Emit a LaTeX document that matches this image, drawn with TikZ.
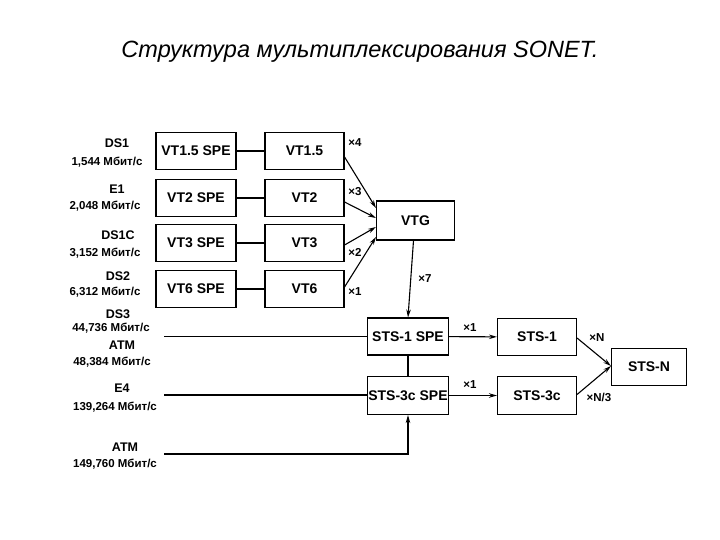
\documentclass[tikz,border=0pt]{standalone}
\usepackage{fontspec}
\setmainfont{Liberation Sans}
\usetikzlibrary{arrows.meta,calc}
\tikzset{
  box/.style={draw=black,line width=1.1pt,minimum width=80pt,minimum height=37pt,inner sep=0pt,font=\fontsize{14}{16}\selectfont\bfseries},
  lbl/.style={inner sep=0pt,font=\fontsize{12.5}{14}\selectfont\bfseries},
  rate/.style={inner sep=0pt,font=\fontsize{11.5}{13}\selectfont\bfseries},
  mul/.style={inner sep=0pt,font=\fontsize{11.5}{13}\selectfont\bfseries},
  ln/.style={line width=1.1pt},
  arr/.style={line width=1.1pt,-{Stealth[length=8pt,width=4.5pt]}}
}
\begin{document}
\begin{tikzpicture}[x=1pt,y=-1pt]
\useasboundingbox (0,0) rectangle (720,540);
\node[inner sep=0pt,font=\fontsize{23.5}{27}\selectfont\itshape] (title) at (360,52) {Структура мультиплексирования SONET.};
% left labels
\node[lbl] (n1) at (117,143) {DS1};
\node[rate] (r1) at (107,162) {1,544 Мбит/с};
\node[lbl] (n2) at (117,189) {E1};
\node[rate] (r2) at (105,206) {2,048 Мбит/с};
\node[lbl] (n3) at (118,235) {DS1C};
\node[rate] (r3) at (105,253) {3,152 Мбит/с};
\node[lbl] (n4) at (118,276) {DS2};
\node[rate] (r4) at (105,292) {6,312 Мбит/с};
\node[lbl] (n5) at (118,314) {DS3};
\node[rate] (r5) at (111,328) {44,736 Мбит/с};
\node[lbl] (n6) at (122,345) {ATM};
\node[rate] (r6) at (112,362) {48,384 Мбит/с};
\node[lbl] (n7) at (122,388) {E4};
\node[rate] (r7) at (115,407) {139,264 Мбит/с};
\node[lbl] (n8) at (125,447) {ATM};
\node[rate] (r8) at (115,464) {149,760 Мбит/с};
% SPE boxes
\node[box] (spe1) at (196,151) {VT1.5 SPE};
\node[box] (spe2) at (196,198) {VT2 SPE};
\node[box] (spe3) at (196,243) {VT3 SPE};
\node[box] (spe4) at (196,289) {VT6 SPE};
\node[box,minimum width=79pt] (vt1) at (304.5,151) {VT1.5};
\node[box,minimum width=79pt] (vt2) at (304.5,198) {VT2};
\node[box,minimum width=79pt] (vt3) at (304.5,243) {VT3};
\node[box,minimum width=79pt] (vt4) at (304.5,289) {VT6};
\node[box,minimum width=78pt,minimum height=39pt] (vtg) at (415.5,220.5) {VTG};
\node[box,minimum width=81pt] (s1spe) at (408,336.5) {STS-1 SPE};
\node[box,minimum width=81pt,minimum height=38pt] (s3spe) at (408,395.5) {STS-3c SPE};
\node[box,minimum width=79pt] (s1) at (537,337) {STS-1};
\node[box,minimum width=79pt,minimum height=38pt] (s3) at (537,395.5) {STS-3c};
\node[box,minimum width=75pt] (sn) at (649,367) {STS-N};
% SPE -> VT
\draw[ln] (spe1) -- (vt1);
\draw[ln] (spe2) -- (vt2);
\draw[ln] (spe3) -- (vt3);
\draw[ln] (spe4) -- (vt4);
% VT -> VTG
\draw[arr] ($(vt1.east)+(0,6)$) -- ($(vtg.west)+(0,-12.5)$);
\draw[arr] ($(vt2.east)+(0,4)$) -- ($(vtg.west)+(0,-2.5)$);
\draw[arr] ($(vt3.east)+(0,2)$) -- ($(vtg.west)+(0,6.5)$);
\draw[arr] ($(vt4.east)+(0,-2)$) -- ($(vtg.west)+(0,16.5)$);
\node[mul] (m4) at (355,143) {×4};
\node[mul] (m3) at (355,192) {×3};
\node[mul] (m2) at (355,252) {×2};
\node[mul] (m1) at (355,292) {×1};
% VTG -> STS-1 SPE
\draw[arr] ($(vtg.south)+(-2,0)$) -- (s1spe.north);
\node[mul] (m7) at (425,279) {×7};
\draw[ln] (s1spe) -- (s3spe);
% inputs
\coordinate (i1) at (164,336.5);
\coordinate (i2) at (164,395);
\coordinate (i3) at (164,454);
\draw[ln] (i1) -- (i1 -| s1spe.west);
\draw[ln] (i2) -- (i2 -| s3spe.west);
\draw[arr] (i3) -- (i3 -| s3spe.south) -- (s3spe.south);
% SPE -> STS
\draw[arr] (s1spe) -- (s1);
\draw[arr] (s3spe) -- (s3);
\node[mul] (x1a) at (470,328) {×1};
\node[mul] (x1b) at (470,385) {×1};
% STS -> STS-N
\draw[arr] ($(s1.east)+(0,1)$) -- ($(sn.west)+(0,-1)$);
\draw[arr] ($(s3.east)+(0,-1)$) -- ($(sn.west)+(0,-1)$);
\node[mul] (xn) at (597,338) {×N};
\node[mul] (xn3) at (599,397) {×N/3};
\end{tikzpicture}
\end{document}
